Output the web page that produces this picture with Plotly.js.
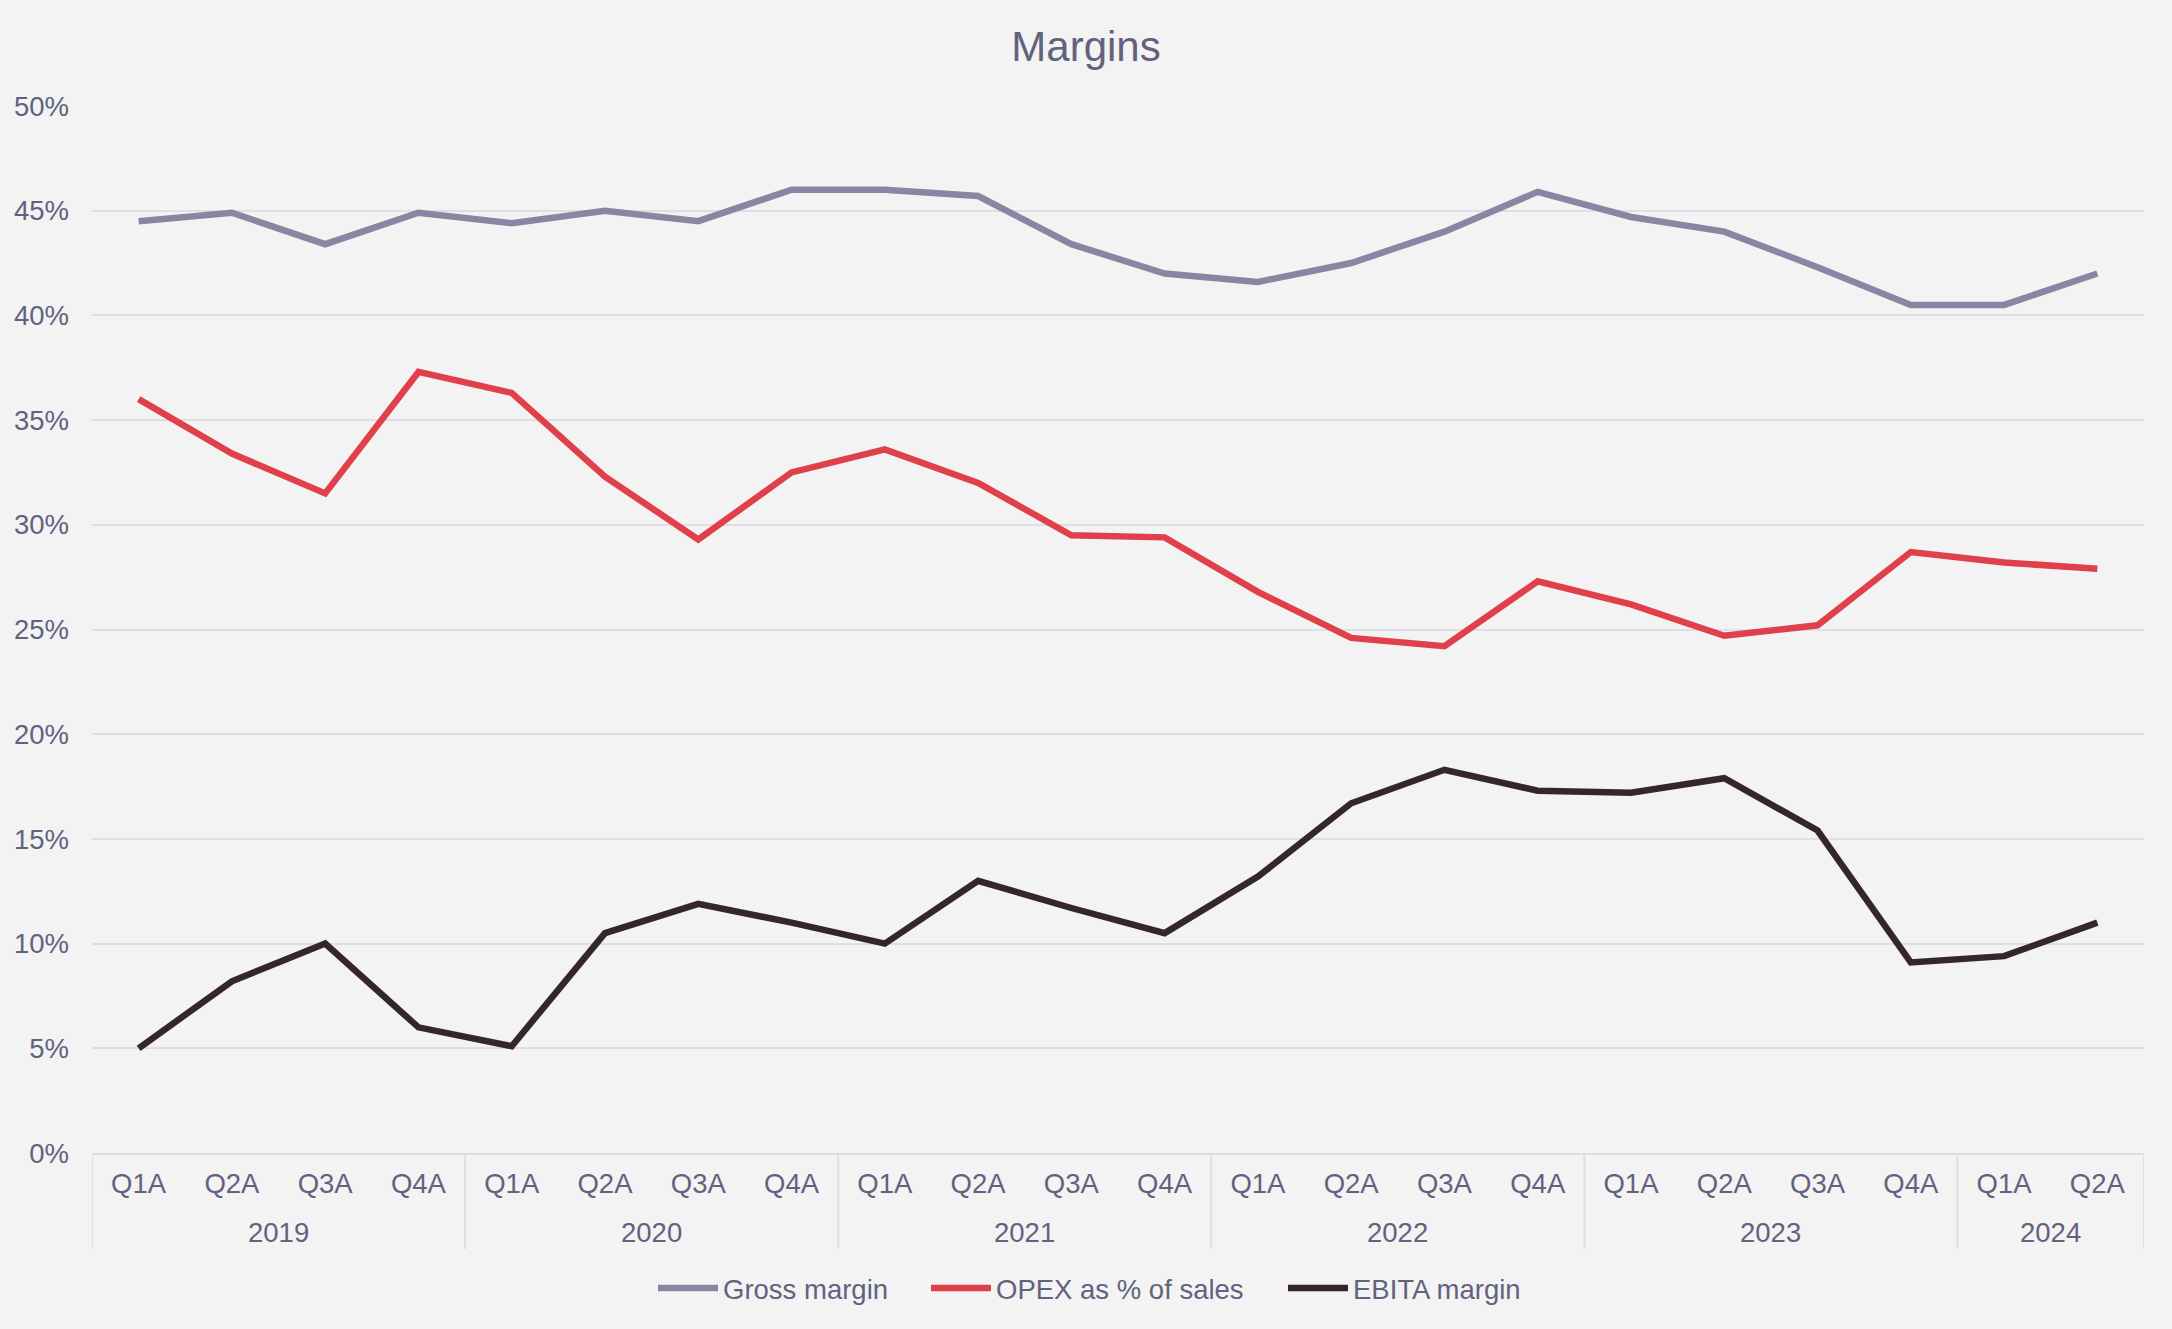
<!DOCTYPE html>
<html>
<head>
<meta charset="utf-8">
<script src="https://cdn.plot.ly/plotly-3.0.1.min.js"></script>
<style>html,body{margin:0;padding:0;background:#f3f3f3;}#chart{width:2172px;height:1329px;}</style>
</head>
<body>
<div id="chart"></div>
<script>
const years = ["2019","2019","2019","2019","2020","2020","2020","2020","2021","2021","2021","2021","2022","2022","2022","2022","2023","2023","2023","2023","2024","2024"];
const quarters = ["Q1A","Q2A","Q3A","Q4A","Q1A","Q2A","Q3A","Q4A","Q1A","Q2A","Q3A","Q4A","Q1A","Q2A","Q3A","Q4A","Q1A","Q2A","Q3A","Q4A","Q1A","Q2A"];
const grossMargin = [44.5,44.9,43.4,44.9, 44.4,45.0,44.5,46.0, 46.0,45.7,43.4,42.0, 41.6,42.5,44.0,45.9, 44.7,44.0,42.3,40.5, 40.5,42.0];
const opexPct = [36.0,33.4,31.5,37.3, 36.3,32.3,29.3,32.5, 33.6,32.0,29.5,29.4, 26.8,24.6,24.2,27.3, 26.2,24.7,25.2,28.7, 28.2,27.9];
const ebitaMargin = [5.0,8.2,10.0,6.0, 5.1,10.5,11.9,11.0, 10.0,13.0,11.7,10.5, 13.2,16.7,18.3,17.3, 17.2,17.9,15.4,9.1, 9.4,11.0];
const yTicks = [0,5,10,15,20,25,30,35,40,45,50];
const yTickText = yTicks.map(v => v + "%");

const textColor = "#62627f";
const gridColor = "#dfdee4";
const fontFamily = "Liberation Sans, Arial, sans-serif";
const fs = 27.5;

// category positions on the axis (one slot per quarter)
const idx = quarters.map((q, i) => i);

// year groups: start/end slot for each distinct year
const groups = [];
years.forEach((y, i) => {
  if (!groups.length || groups[groups.length - 1].year !== y) groups.push({year: y, start: i, end: i});
  else groups[groups.length - 1].end = i;
});

const plotTop = 106, plotBottom = 1153, plotH = plotBottom - plotTop;
const dividerBottom = -(1249 - plotBottom) / plotH;
const yearY = -(1232 - plotBottom) / plotH;

const shapes = [];
const boundaries = [groups[0].start - 0.5].concat(groups.map(g => g.end + 0.5));
boundaries.forEach(b => shapes.push({type: "line", xref: "x", yref: "paper",
  x0: b, x1: b, y0: 0, y1: dividerBottom, line: {color: gridColor, width: 2}}));

const annotations = groups.map(g => ({
  text: g.year, xref: "x", yref: "paper", x: (g.start + g.end) / 2, y: yearY,
  yanchor: "middle", xanchor: "center", showarrow: false,
  font: {size: fs, color: textColor, family: fontFamily}
}));

const traces = [
  {name: "Gross margin", x: idx, y: grossMargin, type: "scatter", mode: "lines",
   line: {color: "#8886a3", width: 6.5}, legend: "legend"},
  {name: "OPEX as % of sales", x: idx, y: opexPct, type: "scatter", mode: "lines",
   line: {color: "#e0404a", width: 6.5}, legend: "legend2"},
  {name: "EBITA margin", x: idx, y: ebitaMargin, type: "scatter", mode: "lines",
   line: {color: "#35252e", width: 6.5}, legend: "legend3"}
];

const legendBase = (xpx) => ({orientation: "h", x: xpx / 2172, xref: "container", xanchor: "left",
  y: 1 - 1288 / 1329, yref: "container", yanchor: "middle", itemwidth: 60,
  font: {size: fs, color: textColor, family: fontFamily}, bgcolor: "rgba(0,0,0,0)", borderwidth: 0});

const layout = {
  width: 2172, height: 1329,
  paper_bgcolor: "#f3f3f3", plot_bgcolor: "#f3f3f3",
  font: {family: fontFamily, size: fs, color: textColor},
  margin: {l: 92, r: 28, t: plotTop, b: 1329 - plotBottom, pad: 0},
  title: {text: "Margins", font: {size: 42, color: textColor, family: fontFamily},
          x: 0.5, xref: "container", y: 1 - 46 / 1329, yref: "container", yanchor: "middle"},
  showlegend: true,
  legend: legendBase(653),
  legend2: legendBase(926),
  legend3: legendBase(1283),
  xaxis: {range: [-0.5, quarters.length - 0.5], tickvals: idx, ticktext: quarters,
          showgrid: false, zeroline: false,
          showline: true, linecolor: gridColor, linewidth: 2,
          ticks: "", ticklabelstandoff: 5, tickfont: {size: fs, color: textColor}, fixedrange: true},
  yaxis: {range: [0, 50], tickvals: yTicks, ticktext: yTickText,
          showgrid: true, gridcolor: gridColor, gridwidth: 2,
          zeroline: false, showline: false, ticks: "", ticklabelstandoff: 22,
          tickfont: {size: fs, color: textColor}, fixedrange: true},
  shapes: shapes,
  annotations: annotations
};

Plotly.newPlot("chart", traces, layout, {staticPlot: true, displayModeBar: false});
</script>
</body>
</html>
